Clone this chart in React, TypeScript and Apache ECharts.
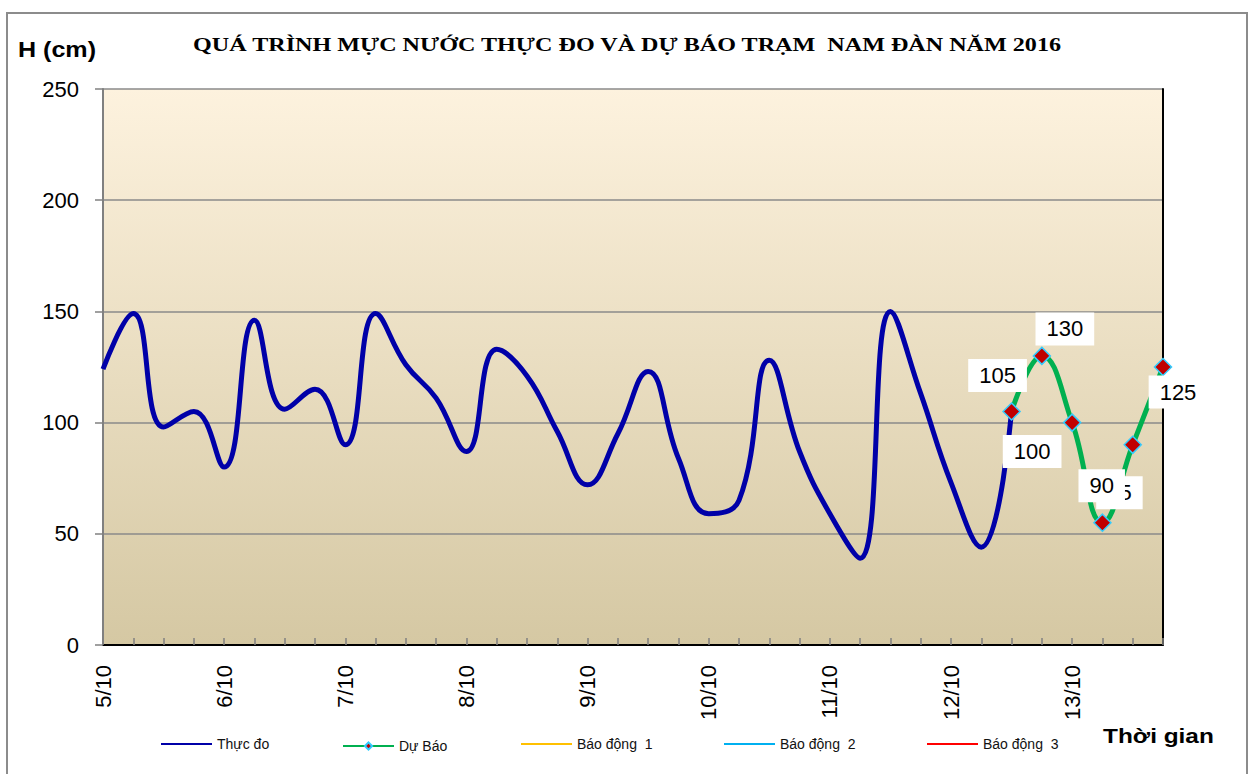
import React, { useEffect, useRef } from "react";
import * as echarts from "echarts";

const days = ["5/10", "6/10", "7/10", "8/10", "9/10", "10/10", "11/10", "12/10", "13/10"];
const hours = ["0h", "6h", "12h", "18h"];
const categories: string[] = [];
days.forEach((d) => hours.forEach((h) => categories.push(d + " " + h)));

// Thực đo (observed), indices 0..30
const observed = [
  124, 149, 98, 105, 80, 146, 106, 115, 90, 149, 126, 111, 87, 133, 121, 96,
  72, 95, 123, 84, 59, 65, 128, 87, 59, 39, 150, 113, 73, 44, 105,
];
// Dự Báo (forecast), indices 30..35
const forecastStart = 30;
const forecast = [105, 130, 100, 55, 90, 125];
const forecastLabelOffsets = [
  [-14, -36],
  [23, -27],
  [-40, 29],
  [17, -30],
  [-31, 41],
  [15, 25],
];

const yTicks = { min: 0, max: 250, interval: 50 };

export default function App() {
  const ref = useRef<HTMLDivElement>(null);
  useEffect(() => {
    if (!ref.current) return;
    const chart = echarts.init(ref.current, null, { renderer: "svg" });

    const obsData = categories.map((_, i) => (i < observed.length ? observed[i] : null));
    const fcData: any[] = categories.map((_, i) => {
      const k = i - forecastStart;
      if (k < 0 || k >= forecast.length) return null;
      return {
        value: forecast[k],
        label: { offset: forecastLabelOffsets[k] },
      };
    });
    const empty = categories.map(() => null);

    const legendBase = {
      orient: "horizontal",
      top: 737,
      padding: 0,
      itemWidth: 51,
      itemHeight: 14,
      textStyle: { fontFamily: "Liberation Sans, Arial", fontSize: 14, color: "#111" },
      lineStyle: { width: 2 },
      selectedMode: false,
    };
    const noSym = { itemStyle: { opacity: 0 } };

    const option: any = {
      animation: false,
      backgroundColor: "#ffffff",
      grid: {
        left: 103,
        top: 89,
        right: 88,
        bottom: 129,
        show: true,
        borderWidth: 0,
        backgroundColor: new echarts.graphic.LinearGradient(0, 0, 0, 1, [
          { offset: 0, color: "#FDF2DE" },
          { offset: 1, color: "#D5C8A3" },
        ]),
      },
      legend: [
        { ...legendBase, ...noSym, left: 160, data: ["Thực đo"] },
        { ...legendBase, left: 342, itemHeight: 9, top: 739, data: ["Dự Báo"] },
        { ...legendBase, ...noSym, left: 520, data: ["Báo động  1"] },
        { ...legendBase, ...noSym, left: 723, data: ["Báo động  2"] },
        { ...legendBase, ...noSym, left: 926, data: ["Báo động  3"] },
      ],
      graphic: [
        {
          type: "rect",
          shape: { x: 7, y: 13, width: 1240, height: 775 },
          style: { fill: "none", stroke: "#8c8c8c", lineWidth: 2 },
          silent: true,
        },
        {
          type: "text",
          x: 627,
          y: 45,
          scaleX: 1.27,
          style: {
            text: "QUÁ TRÌNH MỰC NƯỚC THỰC ĐO VÀ DỰ BÁO TRẠM  NAM ĐÀN NĂM 2016",
            fontFamily: "Liberation Serif, Times New Roman, serif",
            fontWeight: "bold",
            fontSize: 19,
            fill: "#000",
            textAlign: "center",
            textVerticalAlign: "middle",
          },
        },
        {
          type: "text",
          x: 18,
          y: 50,
          scaleX: 1.14,
          style: {
            text: "H (cm)",
            fontFamily: "Liberation Sans, Arial",
            fontWeight: "bold",
            fontSize: 22,
            fill: "#000",
            textAlign: "left",
            textVerticalAlign: "middle",
          },
        },
        {
          type: "text",
          x: 1103,
          y: 736,
          scaleX: 1.22,
          style: {
            text: "Thời gian",
            fontFamily: "Liberation Sans, Arial",
            fontWeight: "bold",
            fontSize: 20,
            fill: "#000",
            textAlign: "left",
            textVerticalAlign: "middle",
          },
        },
      ],
      xAxis: [
        {
          type: "category",
          data: categories,
          boundaryGap: false,
          axisLine: { show: true, lineStyle: { color: "#808080", width: 2 } },
          axisTick: {
            show: true,
            inside: true,
            length: 7,
            interval: 0,
            lineStyle: { color: "#808080", width: 1.5 },
          },
          axisLabel: {
            interval: 3,
            rotate: 90,
            margin: 20,
            fontFamily: "Liberation Sans, Arial",
            fontSize: 22,
            color: "#000",
            formatter: (v: string) => v.split(" ")[0],
          },
          splitLine: { show: false },
        },
        {
          type: "category",
          data: categories,
          boundaryGap: false,
          position: "top",
          axisLine: { show: true, lineStyle: { color: "#000", width: 2 } },
          axisTick: { show: false },
          axisLabel: { show: false },
          splitLine: { show: false },
        },
      ],
      yAxis: [
        {
          type: "value",
          min: yTicks.min,
          max: yTicks.max,
          interval: yTicks.interval,
          axisLine: { show: true, lineStyle: { color: "#808080", width: 2 } },
          axisTick: { show: true, length: 8, lineStyle: { color: "#808080", width: 1.5 } },
          axisLabel: {
            margin: 24,
            fontFamily: "Liberation Sans, Arial",
            fontSize: 22,
            color: "#000",
          },
          splitLine: { show: true, lineStyle: { color: "#8a8a8a", width: 1.5 } },
        },
        {
          type: "value",
          min: yTicks.min,
          max: yTicks.max,
          interval: yTicks.interval,
          position: "right",
          axisLine: { show: true, lineStyle: { color: "#000", width: 2 } },
          axisTick: { show: false },
          axisLabel: { show: false },
          splitLine: { show: false },
        },
      ],
      series: [
        {
          name: "Thực đo",
          type: "line",
          data: obsData,
          smooth: 0.45,
          symbol: "none",
          lineStyle: { color: "#0000A8", width: 5 },
          itemStyle: { color: "#0000A8" },
          z: 2,
        },
        {
          name: "Dự Báo",
          type: "line",
          data: fcData,
          smooth: 0.45,
          symbol: "diamond",
          symbolSize: 17,
          lineStyle: { color: "#00B050", width: 5 },
          itemStyle: { color: "#C00000", borderColor: "#33CCFF", borderWidth: 1.5 },
          label: {
            show: true,
            position: "inside",
            fontFamily: "Liberation Sans, Arial",
            fontSize: 22,
            color: "#000",
            backgroundColor: "#ffffff",
            padding: [6, 11, 5, 11],
          },
          z: 3,
        },
        {
          name: "Báo động  1",
          type: "line",
          data: empty,
          symbol: "none",
          lineStyle: { color: "#FFC000", width: 2 },
          itemStyle: { color: "#FFC000" },
        },
        {
          name: "Báo động  2",
          type: "line",
          data: empty,
          symbol: "none",
          lineStyle: { color: "#00B0F0", width: 2 },
          itemStyle: { color: "#00B0F0" },
        },
        {
          name: "Báo động  3",
          type: "line",
          data: empty,
          symbol: "none",
          lineStyle: { color: "#FF0000", width: 2 },
          itemStyle: { color: "#FF0000" },
        },
      ],
    };

    chart.setOption(option);
    return () => chart.dispose();
  }, []);

  return (
    <div
      ref={ref}
      style={{ position: "fixed", left: 0, top: 0, width: 1251, height: 774 }}
    />
  );
}
